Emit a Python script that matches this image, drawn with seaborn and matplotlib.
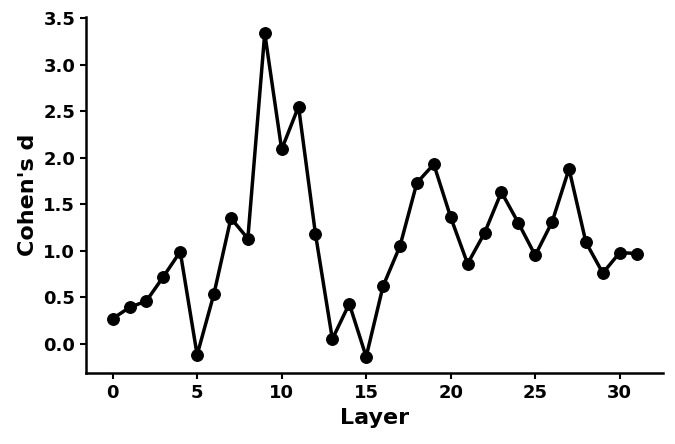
import numpy as np
import pandas as pd
import seaborn as sns
import matplotlib
matplotlib.use("Agg")
import matplotlib.pyplot as plt

layers = list(range(32))
cohens_d = [0.27, 0.39, 0.46, 0.72, 0.99, -0.12, 0.54, 1.35, 1.13, 3.34,
            2.09, 2.55, 1.18, 0.05, 0.43, -0.14, 0.62, 1.05, 1.73, 1.93,
            1.36, 0.86, 1.19, 1.63, 1.30, 0.95, 1.31, 1.88, 1.09, 0.76,
            0.98, 0.97]

df = pd.DataFrame({"Layer": layers, "Cohen's d": cohens_d})

sns.set_style("ticks", {"axes.edgecolor": "black", "text.color": "black",
                        "axes.labelcolor": "black", "xtick.color": "black",
                        "ytick.color": "black"})
plt.rcParams["font.family"] = ["DejaVu Sans"]
plt.rcParams["font.weight"] = "bold"

fig, ax = plt.subplots(figsize=(6.75, 4.44), dpi=100)
sns.lineplot(data=df, x="Layer", y="Cohen's d", marker="o", color="black",
             linewidth=2.5, markersize=8.5, markeredgecolor="black", ax=ax)

ax.set_xticks([0, 5, 10, 15, 20, 25, 30])
ax.set_yticks(np.arange(0, 3.51, 0.5))
ax.set_xlabel("Layer", fontsize=16, fontweight="bold")
ax.set_ylabel("Cohen's d", fontsize=16, fontweight="bold")
for lab in ax.get_xticklabels() + ax.get_yticklabels():
    lab.set_fontweight("bold")
    lab.set_fontsize(13)
ax.tick_params(width=1.5, length=4.5, colors="black")
for s in ["left", "bottom"]:
    ax.spines[s].set_linewidth(1.8)
sns.despine()

plt.subplots_adjust(left=0.128, right=0.982, top=0.962, bottom=0.16)
plt.savefig("out.png", dpi=100)
